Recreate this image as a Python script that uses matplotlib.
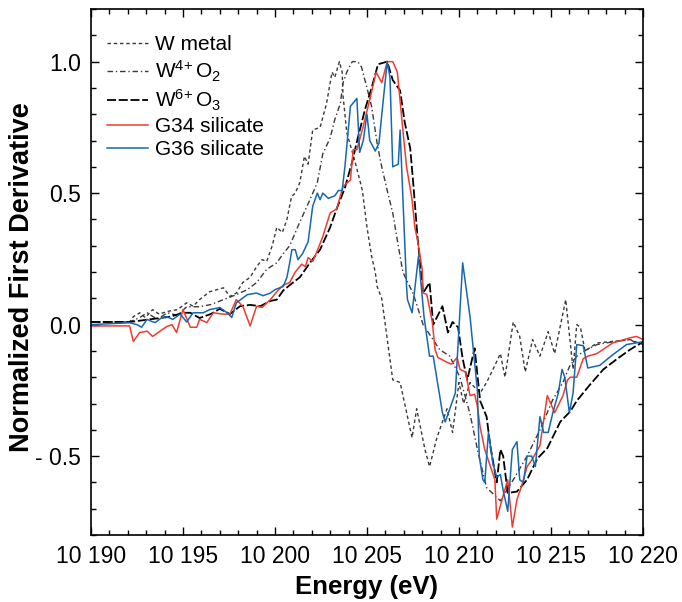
import matplotlib
matplotlib.use('Agg')
import matplotlib.pyplot as plt
from matplotlib.ticker import MultipleLocator, FixedLocator

plt.rcParams['font.family'] = ['Liberation Sans', 'DejaVu Sans']
plt.rcParams['mathtext.default'] = 'regular'

# --- W L3-edge first derivative spectra (energy in eV, normalized) ---
w_metal_e = [10190.0, 10192.1, 10192.3, 10192.65, 10192.95, 10193.35, 10193.7, 10194.15, 10194.7,
             10195.2, 10195.55, 10195.9, 10196.45, 10196.85, 10197.2, 10197.55, 10197.9, 10198.25,
             10198.65, 10199.0, 10199.3, 10199.55, 10199.85, 10200.1, 10200.4, 10200.65, 10200.9,
             10201.1, 10201.35, 10201.6, 10201.8, 10202.05, 10202.45, 10202.8, 10203.1, 10203.25,
             10203.5, 10203.65, 10203.7, 10203.9, 10204.35, 10204.75, 10205.0, 10205.25, 10205.45,
             10205.55, 10205.8, 10206.4, 10206.8, 10207.45, 10207.7, 10208.15, 10208.4, 10208.8,
             10209.35, 10209.65, 10210.0, 10210.25, 10210.6, 10211.15, 10211.5, 10211.85, 10212.25,
             10212.5, 10212.95, 10213.3, 10213.6, 10214.0, 10214.4, 10214.85, 10215.2, 10215.8,
             10216.2, 10216.4, 10216.6, 10216.85, 10217.5, 10218.2, 10219.3, 10220.0]
w_metal_v = [0.01, 0.01, 0.03, 0.045, 0.027, 0.057, 0.04, 0.05, 0.057,
             0.083, 0.07, 0.095, 0.125, 0.133, 0.14, 0.107, 0.12, 0.16,
             0.18, 0.22, 0.247, 0.24, 0.3, 0.37, 0.35, 0.4, 0.487,
             0.5, 0.54, 0.64, 0.61, 0.74, 0.75, 0.84, 0.96, 0.94,
             1.0, 0.96, 0.87, 0.73, 0.62, 0.51, 0.37, 0.26, 0.2,
             0.145, 0.1, -0.21, -0.22, -0.43, -0.32, -0.475, -0.54, -0.43,
             -0.32, -0.41, -0.22, -0.3, -0.22, -0.26, -0.22, -0.17, -0.11,
             -0.2, 0.01, -0.045, -0.18, -0.057, -0.12, -0.027, -0.11, 0.095,
             -0.17, 0.0, -0.01, -0.1, -0.07, -0.065, -0.057, -0.076]

wo2_e = [10190.0, 10192.1, 10192.65, 10193.05, 10193.6, 10194.15, 10194.7, 10195.2, 10195.9,
         10196.5, 10197.2, 10197.9, 10198.5, 10199.0, 10199.55, 10200.1, 10200.45, 10200.8,
         10201.35, 10201.9, 10202.3, 10202.6, 10203.0, 10203.25, 10203.55, 10203.7, 10203.9,
         10204.2, 10204.5, 10204.7, 10205.0, 10205.25, 10205.55, 10205.8, 10206.1, 10206.4,
         10206.7, 10206.95, 10207.15, 10207.5, 10208.05, 10208.95, 10209.5, 10210.05, 10210.6,
         10211.05, 10211.5, 10212.25, 10212.95, 10213.7, 10214.4, 10215.1, 10215.65, 10216.0,
         10216.4, 10216.95, 10217.5, 10218.4, 10219.3, 10220.0]
wo2_v = [0.01, 0.01, 0.027, 0.045, 0.02, 0.045, 0.035, 0.068, 0.068,
         0.076, 0.095, 0.114, 0.133, 0.16, 0.21, 0.235, 0.27, 0.3,
         0.39, 0.475, 0.54, 0.65, 0.71, 0.78, 0.84, 0.92, 0.96,
         1.0, 1.0, 0.98, 0.9, 0.83, 0.69, 0.6, 0.51, 0.425,
         0.3, 0.2, 0.17, 0.12, 0.0, -0.095, -0.12, -0.2, -0.34,
         -0.49, -0.62, -0.67, -0.59, -0.5, -0.4, -0.285, -0.22, -0.16,
         -0.12, -0.095, -0.076, -0.065, -0.057, -0.085]

wo3_e = [10190.0, 10192.1, 10193.2, 10194.3, 10195.0, 10195.4, 10195.9, 10196.5, 10197.0,
         10197.55, 10198.1, 10198.65, 10199.2, 10199.75, 10200.1, 10200.45, 10200.8, 10201.35,
         10201.9, 10202.45, 10203.0, 10203.35, 10203.8, 10204.2, 10204.5, 10204.9, 10205.25,
         10205.6, 10206.1, 10206.4, 10206.8, 10207.05, 10207.35, 10207.5, 10207.75, 10208.05,
         10208.4, 10208.6, 10209.1, 10209.4, 10209.65, 10209.95, 10210.2, 10210.45, 10210.85,
         10211.15, 10211.5, 10211.7, 10212.05, 10212.25, 10212.4, 10212.65, 10213.15, 10213.7,
         10214.25, 10214.8, 10215.5, 10216.05, 10216.4, 10217.1, 10217.85, 10218.6, 10219.3,
         10220.0]
wo3_v = [0.01, 0.01, 0.02, 0.03, 0.045, 0.045, 0.025, 0.04, 0.06,
         0.04, 0.07, 0.075, 0.07, 0.09, 0.095, 0.13, 0.15, 0.18,
         0.235, 0.285, 0.37, 0.44, 0.52, 0.62, 0.71, 0.82, 0.9,
         0.99, 1.0, 0.93, 0.89, 0.77, 0.67, 0.55, 0.33, 0.12,
         0.16, 0.0, 0.07, -0.03, 0.01, -0.01, -0.13, -0.21, -0.09,
         -0.29, -0.35, -0.46, -0.6, -0.475, -0.5, -0.64, -0.635, -0.59,
         -0.51, -0.47, -0.37, -0.33, -0.29, -0.23, -0.17, -0.13, -0.095,
         -0.065]

g34_e = [10190.0, 10192.1, 10192.3, 10192.65, 10193.05, 10193.35, 10193.75, 10194.1, 10194.4,
         10194.65, 10195.0, 10195.4, 10195.75, 10195.9, 10196.3, 10196.65, 10197.15, 10197.55,
         10197.9, 10198.25, 10198.65, 10199.0, 10199.3, 10199.75, 10200.1, 10200.45, 10200.8,
         10201.1, 10201.45, 10201.65, 10201.8, 10202.05, 10202.35, 10202.6, 10203.0, 10203.35,
         10203.7, 10204.1, 10204.25, 10204.45, 10204.8, 10205.15, 10205.5, 10205.8, 10206.1,
         10206.4, 10206.65, 10206.8, 10206.95, 10207.15, 10207.45, 10207.6, 10207.75, 10208.0,
         10208.05, 10208.25, 10208.55, 10208.7, 10208.85, 10209.4, 10209.6, 10209.9, 10210.05,
         10210.35, 10210.6, 10210.85, 10211.0, 10211.15, 10211.4, 10211.95, 10212.05, 10212.4,
         10212.65, 10212.9, 10213.15, 10213.4, 10213.7, 10214.0, 10214.4, 10214.8, 10215.2,
         10215.65, 10215.9, 10216.05, 10216.4, 10216.75, 10217.0, 10217.5, 10218.35, 10219.3,
         10219.65, 10220.0]
g34_v = [-0.005, -0.005, -0.064, -0.03, -0.025, -0.045, -0.025, -0.008, 0.0,
         -0.03, 0.057, -0.01, -0.01, 0.02, 0.008, 0.045, 0.04, 0.04,
         0.095, 0.07, -0.005, 0.07, 0.065, 0.095, 0.125, 0.15, 0.16,
         0.2, 0.23, 0.22, 0.255, 0.24, 0.29, 0.335, 0.425, 0.44,
         0.525, 0.55, 0.665, 0.665, 0.755, 0.855, 0.96, 0.92, 1.0,
         1.0, 0.96, 0.85, 0.74, 0.6, 0.475, 0.37, 0.32, 0.21,
         0.12, 0.115, 0.01, -0.095, -0.125, -0.145, -0.15, -0.125, -0.17,
         -0.18, -0.27, -0.265, -0.31, -0.39, -0.475, -0.59, -0.74, -0.65,
         -0.59, -0.77, -0.665, -0.615, -0.54, -0.51, -0.46, -0.27, -0.335,
         -0.27, -0.21, -0.2, -0.2, -0.13, -0.12, -0.11, -0.07, -0.05,
         -0.045, -0.057]

g36_e = [10190.0, 10192.1, 10192.5, 10192.75, 10193.05, 10193.3, 10193.5, 10193.85, 10194.1,
         10194.45, 10194.85, 10195.2, 10195.55, 10196.1, 10196.45, 10197.0, 10197.4, 10197.65,
         10197.9, 10198.5, 10199.0, 10199.35, 10199.75, 10200.0, 10200.45, 10200.65, 10200.8,
         10200.92, 10201.1, 10201.25, 10201.5, 10201.8, 10202.05, 10202.3, 10202.45, 10202.6,
         10202.9, 10203.25, 10203.45, 10203.65, 10203.8, 10204.1, 10204.45, 10204.6, 10204.8,
         10205.0, 10205.15, 10205.45, 10205.65, 10205.85, 10206.1, 10206.25, 10206.4, 10206.7,
         10206.8, 10207.15, 10207.2, 10207.45, 10207.8, 10208.1, 10208.4, 10208.6, 10209.1,
         10209.25, 10209.6, 10209.8, 10210.2, 10210.6, 10211.0, 10211.1, 10211.3, 10211.4,
         10211.6, 10211.85, 10212.05, 10212.25, 10212.4, 10212.65, 10212.9, 10213.15, 10213.3,
         10213.5, 10213.7, 10213.95, 10214.15, 10214.4, 10214.6, 10214.85, 10215.1, 10215.4,
         10215.6, 10215.75, 10216.0, 10216.2, 10216.4, 10216.75, 10217.0, 10217.65, 10218.35,
         10219.1, 10220.0]
g36_v = [0.0, 0.007, 0.0, -0.01, 0.02, 0.012, 0.008, 0.027, 0.03,
         0.02, 0.04, 0.01, 0.045, 0.045, 0.057, 0.065, 0.045, 0.027,
         0.083, 0.114, 0.12, 0.11, 0.12, 0.133, 0.145, 0.18, 0.235,
         0.285, 0.285, 0.247, 0.27, 0.315, 0.45, 0.5, 0.475, 0.5,
         0.48, 0.49, 0.51, 0.51, 0.6, 0.83, 0.86, 0.655, 0.7,
         0.8, 0.7, 0.66, 0.69, 0.83, 1.0, 0.94, 0.6, 0.61,
         0.74, 0.145, 0.095, 0.045, 0.26, 0.03, -0.12, -0.12, -0.335,
         -0.37, -0.3, -0.26, 0.235, 0.03, -0.25, -0.5, -0.59, -0.6,
         -0.41, -0.53, -0.58, -0.57, -0.63, -0.71, -0.475, -0.445, -0.59,
         -0.6, -0.5, -0.5, -0.54, -0.35, -0.41, -0.41, -0.335, -0.26,
         -0.17, -0.2, -0.335, -0.26, -0.076, -0.08, -0.165, -0.155, -0.115,
         -0.076, -0.065]

x_ticks = [10190, 10195, 10200, 10205, 10210, 10215, 10220]
x_ticklabels = ['10 190', '10 195', '10 200', '10 205', '10 210', '10 215', '10 220']
y_ticks = [-0.5, 0.0, 0.5, 1.0]
y_ticklabels = ['- 0.5', '0.0', '0.5', '1.0']

fig = plt.figure(figsize=(6.82, 6.02), dpi=100)
ax = fig.add_axes([0.1334, 0.1113, 0.8094, 0.8737])

ax.plot(w_metal_e, w_metal_v, color='#3a3a3a', lw=1.0, ls=(0, (2.5, 2)), label='W metal')
ax.plot(wo2_e, wo2_v, color='#3a3a3a', lw=1.0, ls=(0, (4, 2, 1, 2)), label=r'W$^{4\!+}$O$_2$')
ax.plot(wo3_e, wo3_v, color='black', lw=1.3, ls=(0, (5, 1.5)), label=r'W$^{6\!+}$O$_3$')
ax.plot(g34_e, g34_v, color='#f03c2e', lw=1.1, label='G34 silicate')
ax.plot(g36_e, g36_v, color='#1668b0', lw=1.1, label='G36 silicate')

ax.set_xlim(10190, 10220)
ax.set_ylim(-0.8, 1.2)
ax.xaxis.set_major_locator(FixedLocator(x_ticks))
ax.set_xticklabels(x_ticklabels)
ax.xaxis.set_minor_locator(MultipleLocator(1))
ax.yaxis.set_major_locator(FixedLocator(y_ticks))
ax.set_yticklabels(y_ticklabels)
ax.yaxis.set_minor_locator(MultipleLocator(0.1))

ax.tick_params(which='both', direction='in', top=True, right=True, width=1.0, labelsize=16.5)
ax.tick_params(which='major', length=6, pad=7)
ax.tick_params(which='minor', length=3.5)
for s in ax.spines.values():
    s.set_linewidth(1.2)

ax.set_xlabel('Energy (eV)', fontsize=18.5, fontweight='bold', labelpad=5)
ax.set_ylabel('Normalized First Derivative', fontsize=19.5, fontweight='bold')
ax.yaxis.set_label_coords(-0.101, 0.49)

ax.legend(loc='upper left', bbox_to_anchor=(0.0, 0.98), frameon=False, fontsize=15,
          handlelength=2.0, handletextpad=0.3, labelspacing=0.2, borderaxespad=0.35)

fig.savefig('out.png', dpi=100)
